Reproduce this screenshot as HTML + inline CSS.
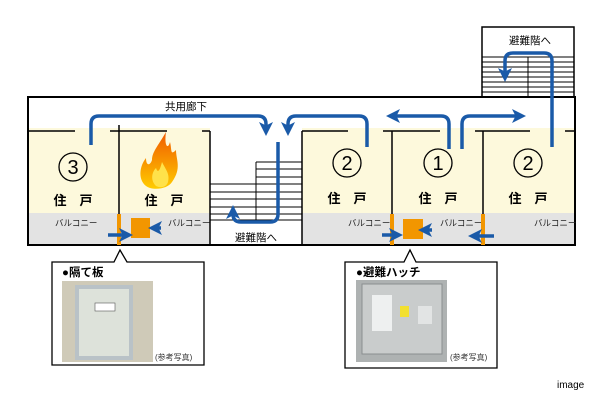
<!DOCTYPE html>
<html><head><meta charset="utf-8"><style>
body{margin:0;background:#fff}
svg{display:block;font-family:"Liberation Sans","Noto Sans CJK JP",sans-serif}
</style></head><body>
<svg width="600" height="400" viewBox="0 0 600 400" xmlns="http://www.w3.org/2000/svg">
<defs>
<marker id="ah" markerWidth="4" markerHeight="4" refX="2" refY="2" orient="auto" markerUnits="strokeWidth"><path d="M0,0 L4,2 L0,4 L1,2 Z" fill="#1a5aa8"/></marker>
<linearGradient id="fl" x1="0" y1="0" x2="0" y2="1"><stop offset="0" stop-color="#f05a00"/><stop offset="1" stop-color="#ffcc00"/></linearGradient>
</defs>
<rect x="482" y="27" width="92" height="72" fill="#fff" stroke="#000" stroke-width="1.5"/>
<g stroke="#000" stroke-width="1">
<line x1="482" y1="57" x2="574" y2="57"/><line x1="482" y1="62" x2="574" y2="62"/><line x1="482" y1="67" x2="574" y2="67"/><line x1="482" y1="72" x2="574" y2="72"/><line x1="482" y1="77" x2="574" y2="77"/><line x1="482" y1="82" x2="574" y2="82"/><line x1="482" y1="87" x2="574" y2="87"/><line x1="482" y1="92" x2="574" y2="92"/>
<line x1="528" y1="57" x2="528" y2="100"/><line x1="528" y1="100" x2="574" y2="100"/>
</g>
<text x="530" y="44" font-size="10.5" text-anchor="middle">避難階へ</text>
<rect x="28" y="97" width="547" height="148" fill="#fff" stroke="#000" stroke-width="2"/>
<rect x="29" y="128" width="181" height="86" fill="#fdf9dc"/>
<rect x="302" y="128" width="272" height="86" fill="#fdf9dc"/>
<rect x="29" y="213" width="181" height="31" fill="#e3e3e3"/>
<rect x="302" y="213" width="272" height="31" fill="#e3e3e3"/>
<rect x="29" y="98" width="545" height="30" fill="#fff"/>
<g stroke="#000" stroke-width="1.5">
<line x1="28" y1="131" x2="75" y2="131"/><line x1="110" y1="131" x2="167" y2="131"/><line x1="202" y1="131" x2="210" y2="131"/>
<line x1="119" y1="125" x2="119" y2="245"/><line x1="210" y1="131" x2="210" y2="245"/>
<line x1="302" y1="131" x2="302" y2="245"/><line x1="302" y1="131" x2="348" y2="131"/><line x1="383" y1="131" x2="440" y2="131"/><line x1="475" y1="131" x2="530" y2="131"/><line x1="565" y1="131" x2="575" y2="131"/>
<line x1="392" y1="131" x2="392" y2="245"/><line x1="483" y1="131" x2="483" y2="245"/>
</g>
<g stroke="#000" stroke-width="1">
<line x1="256" y1="162" x2="302" y2="162"/><line x1="256" y1="169" x2="302" y2="169"/><line x1="256" y1="177" x2="302" y2="177"/>
<line x1="210" y1="184" x2="302" y2="184"/><line x1="210" y1="192" x2="302" y2="192"/><line x1="210" y1="199" x2="302" y2="199"/><line x1="210" y1="207" x2="302" y2="207"/><line x1="210" y1="214" x2="302" y2="214"/><line x1="210" y1="220" x2="302" y2="220"/>
<line x1="256" y1="162" x2="256" y2="220"/>
</g>
<text x="186" y="110" font-size="10.5" text-anchor="middle">共用廊下</text>
<text x="256" y="241" font-size="10.5" text-anchor="middle">避難階へ</text>
<g fill="none" stroke="#000" stroke-width="1.3">
<circle cx="73" cy="167" r="14"/><circle cx="347" cy="163" r="14"/><circle cx="438" cy="163" r="14"/><circle cx="528" cy="163" r="14"/>
</g>
<g font-size="20" text-anchor="middle">
<text x="73" y="174">3</text><text x="347" y="170">2</text><text x="438" y="170">1</text><text x="528" y="170">2</text>
</g>
<g font-size="13" text-anchor="middle" font-weight="bold">
<text x="73" y="205">住　戸</text><text x="164" y="205">住　戸</text><text x="347" y="203">住　戸</text><text x="438" y="203">住　戸</text><text x="528" y="203">住　戸</text>
</g>
<path d="M150,188 C138,184 138,168 146,158 C146,166 150,166 152,160 C152,152 158,146 166,132 C164,146 168,150 170,142 C172,150 170,156 176,150 C176,160 182,168 172,182 C168,188 158,190 150,188 Z" fill="url(#fl)"/>
<path d="M156,186 C150,180 152,172 156,168 C158,174 160,170 162,162 C166,170 170,174 168,182 C166,188 160,188 156,186Z" fill="#ffe24a"/>
<g font-size="8.5" fill="#222">
<text x="55" y="226">バルコニー</text><text x="168" y="226">バルコニー</text><text x="348" y="226">バルコニー</text><text x="440" y="226">バルコニー</text><text x="534" y="226">バルコニー</text>
</g>
<g fill="#f29600">
<rect x="117" y="214" width="4" height="31"/><rect x="390" y="214" width="4" height="31"/><rect x="481" y="214" width="4" height="31"/>
<rect x="131" y="218" width="19" height="20"/><rect x="403" y="219" width="20" height="20"/>
</g>
<g fill="none" stroke="#1a5aa8" stroke-width="3.5" stroke-linecap="butt">
<path d="M91,145 V124 Q91,116 99,116 H258 Q266,116 266,124 V129" marker-end="url(#ah)"/>
<path d="M367,147 V124 Q367,116 359,116 H296 Q288,116 288,124 V129" marker-end="url(#ah)"/>
<path d="M278,142 V214 Q278,222 270,222 H241 Q233,222 233,214 V212" marker-end="url(#ah)"/>
<path d="M449,149 V124 Q449,116 441,116 H393" marker-end="url(#ah)"/>
<path d="M462,149 V124 Q462,116 470,116 H519" marker-end="url(#ah)"/>
<path d="M552,147 V61 Q552,53 544,53 H513 Q505,53 505,61 V75" marker-end="url(#ah)"/>
<path d="M108,235 H126" marker-end="url(#ah)"/>
<path d="M161,228 H155" marker-end="url(#ah)"/>
<path d="M382,235 H396" marker-end="url(#ah)"/>
<path d="M432,230 H425" marker-end="url(#ah)"/>
<path d="M494,236 H475" marker-end="url(#ah)"/>
</g>
<path d="M52,262 H114 L120,250 L127,262 H204 V365 H52 Z" fill="#fff" stroke="#000" stroke-width="1.3"/>
<text x="62" y="276" font-size="11.5" font-weight="bold">●隔て板</text>
<rect x="62" y="281" width="91" height="81" fill="#cfcab8"/>
<rect x="75" y="285" width="58" height="75" fill="#b9c2c7"/>
<rect x="79" y="289" width="50" height="67" fill="#dde2da"/>
<rect x="95" y="303" width="20" height="8" fill="#fff" stroke="#555" stroke-width="0.6"/>
<text x="155" y="360" font-size="8" fill="#333">(参考写真)</text>
<path d="M345,262 H404 L410,250 L416,262 H497 V368 H345 Z" fill="#fff" stroke="#000" stroke-width="1.3"/>
<text x="356" y="276" font-size="11.5" font-weight="bold">●避難ハッチ</text>
<rect x="356" y="280" width="91" height="82" fill="#aeb2b2"/>
<rect x="362" y="284" width="80" height="70" fill="#c9cccc" stroke="#8a8f90" stroke-width="1"/>
<rect x="372" y="295" width="20" height="36" fill="#eef0f0"/>
<rect x="400" y="306" width="9" height="11" fill="#f2e030"/>
<rect x="418" y="306" width="14" height="18" fill="#e2e4e4"/>
<text x="450" y="360" font-size="8" fill="#333">(参考写真)</text>
<text x="557" y="388" font-size="10">image</text>
</svg>
</body></html>
